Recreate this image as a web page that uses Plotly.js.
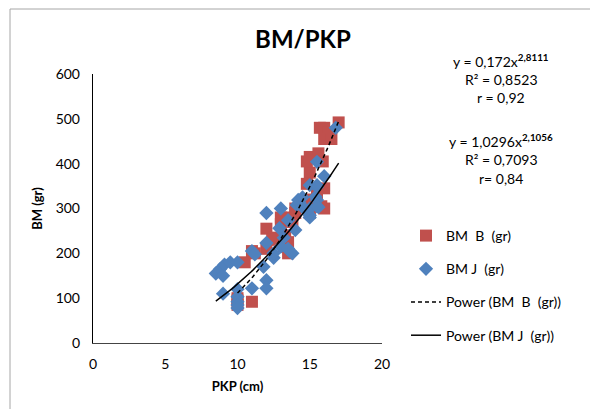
<!DOCTYPE html>
<html>
<head>
<meta charset="utf-8">
<script src="https://cdn.plot.ly/plotly-3.0.1.min.js"></script>
<style>html,body{margin:0;padding:0;background:#fff}#chart{width:590px;height:409px}</style>
</head>
<body>
<div id="chart"></div>
<script>
// BM B (gr) — red squares
const bX = [10, 10, 10, 10.5, 11, 11, 11.2, 12, 12, 12.5, 12.4, 13, 13, 13.3, 13.5, 13.5, 13.8, 13.2, 13.5, 14, 14, 14.5, 14.8, 15, 15, 15.2, 15.5, 15.5, 15.8, 16, 16, 15, 14.8, 15, 15.6, 15.9, 14.8, 15.7, 16, 16.3, 16, 16.5, 17];
const bY = [85, 95, 100, 180, 92, 205, 200, 210, 255, 235, 230, 265, 280, 240, 280, 200, 270, 215, 225, 290, 300, 305, 310, 290, 300, 320, 310, 330, 305, 345, 300, 380, 405, 415, 423, 405, 355, 480, 480, 470, 455, 455, 492];
// BM J (gr) — blue diamonds
const jX = [8.5, 8.8, 9, 9, 9.1, 9.5, 10, 10, 10, 10, 10, 10, 11, 11, 11.2, 11.8, 12, 12, 12, 12, 12.5, 12.5, 13, 12.9, 13, 13.2, 13.5, 13.6, 13.8, 13.5, 14, 14.1, 14.2, 14.3, 14.5, 14.5, 15, 15, 15, 15.4, 15.5, 15.6, 15.5, 15.5, 15, 15.5, 16, 15.5, 16.8, 14.8];
const jY = [155, 165, 150, 110, 175, 180, 180, 120, 103, 92, 85, 78, 122, 205, 198, 170, 140, 122, 223, 290, 190, 200, 300, 256, 215, 235, 274, 205, 200, 210, 252, 308, 319, 312, 303, 325, 285, 280, 300, 326, 319, 303, 305, 348, 352, 352, 372, 404, 480, 295];
// Power trendlines as printed on the chart: y = a * x^b
const trendB = {a: 0.172, b: 2.8111, xStart: 10, xEnd: 17};
const trendJ = {a: 1.0296, b: 2.1056, xStart: 8.5, xEnd: 17};
const eqLines = [
  "y = 0,172x<sup><b>2,8111</b></sup>", "R² = 0,8523", "r = 0,92",
  "y = 1,0296x<sup><b>2,1056</b></sup>", "R² = 0,7093", "r= 0,84"
];

function powerCurve(t) {
  const xs = [], ys = [];
  const n = 60;
  for (let i = 0; i <= n; i++) {
    const x = t.xStart + (t.xEnd - t.xStart) * i / n;
    xs.push(x); ys.push(t.a * Math.pow(x, t.b));
  }
  return {xs, ys};
}
const cB = powerCurve(trendB), cJ = powerCurve(trendJ);

const FONT = "Lato, 'Open Sans', sans-serif";
const traces = [
  {x: bX, y: bY, mode: 'markers', type: 'scatter', name: 'BM  B  (gr)', legendgroup: 'a',
   marker: {symbol: 'square', size: 12, color: '#C0504D'}},
  {x: jX, y: jY, mode: 'markers', type: 'scatter', name: 'BM J  (gr)', legendgroup: 'b',
   marker: {symbol: 'diamond', size: 11, color: '#4F81BD'}},
  {x: cB.xs, y: cB.ys, mode: 'lines', type: 'scatter', name: 'Power (BM  B  (gr))', legendgroup: 'c',
   line: {color: '#000', width: 1.5, dash: '4px,3px'}},
  {x: cJ.xs, y: cJ.ys, mode: 'lines', type: 'scatter', name: 'Power (BM J  (gr))', legendgroup: 'd',
   line: {color: '#000', width: 1.5}}
];

const eqY = [61, 80, 98, 140, 159, 178];
const PT = 74, PB = 343, PL = 93, PR = 382;
const annotations = eqLines.map((t, i) => ({
  text: t, xref: 'paper', yref: 'paper',
  x: (501 - PL) / (PR - PL), y: (PB - eqY[i]) / (PB - PT),
  xanchor: 'center', yanchor: 'middle', showarrow: false,
  font: {family: FONT, size: 14, color: '#000'}
}));

const layout = {
  width: 590, height: 409,
  margin: {l: PL, r: 590 - PR, t: PT, b: 409 - PB, pad: 0},
  paper_bgcolor: '#fff', plot_bgcolor: '#fff',
  font: {family: FONT, size: 14, color: '#000'},
  title: {text: '<b>BM/PKP</b>', font: {family: FONT, size: 24, color: '#000'},
          xref: 'container', yref: 'container', x: 303 / 590, y: 1 - 40 / 409,
          xanchor: 'center', yanchor: 'middle'},
  xaxis: {range: [0, 20], tickvals: [0, 5, 10, 15, 20], showgrid: false, zeroline: false,
          showline: true, linecolor: '#444', linewidth: 1.2, ticks: '', ticklabelstandoff: 8,
          tickfont: {family: FONT, size: 14},
          title: {text: '<b>PKP (cm)</b>', font: {family: FONT, size: 13}, standoff: 10}},
  yaxis: {range: [0, 600], tickvals: [0, 100, 200, 300, 400, 500, 600], showgrid: false, zeroline: false,
          showline: true, linecolor: '#000', linewidth: 1.2, ticks: '', ticklabelstandoff: 9,
          tickfont: {family: FONT, size: 14},
          title: {text: '<b>BM (gr)</b>', font: {family: FONT, size: 13}, standoff: 10}},
  legend: {x: (406 - PL) / (PR - PL), y: (PB - 220) / (PB - PT), xanchor: 'left', yanchor: 'top',
           font: {family: FONT, size: 14}, tracegroupgap: 12, bgcolor: 'rgba(0,0,0,0)'},
  showlegend: true,
  annotations: annotations,
  shapes: [{type: 'rect', xref: 'paper', yref: 'paper', layer: 'below',
            x0: (10 - PL) / (PR - PL), x1: (620 - PL) / (PR - PL),
            y0: (PB - 440) / (PB - PT), y1: (PB - 9) / (PB - PT),
            line: {color: '#a6a6a6', width: 1}, fillcolor: 'rgba(0,0,0,0)'}]
};

Plotly.newPlot('chart', traces, layout, {displayModeBar: false, staticPlot: true});
</script>
</body>
</html>
